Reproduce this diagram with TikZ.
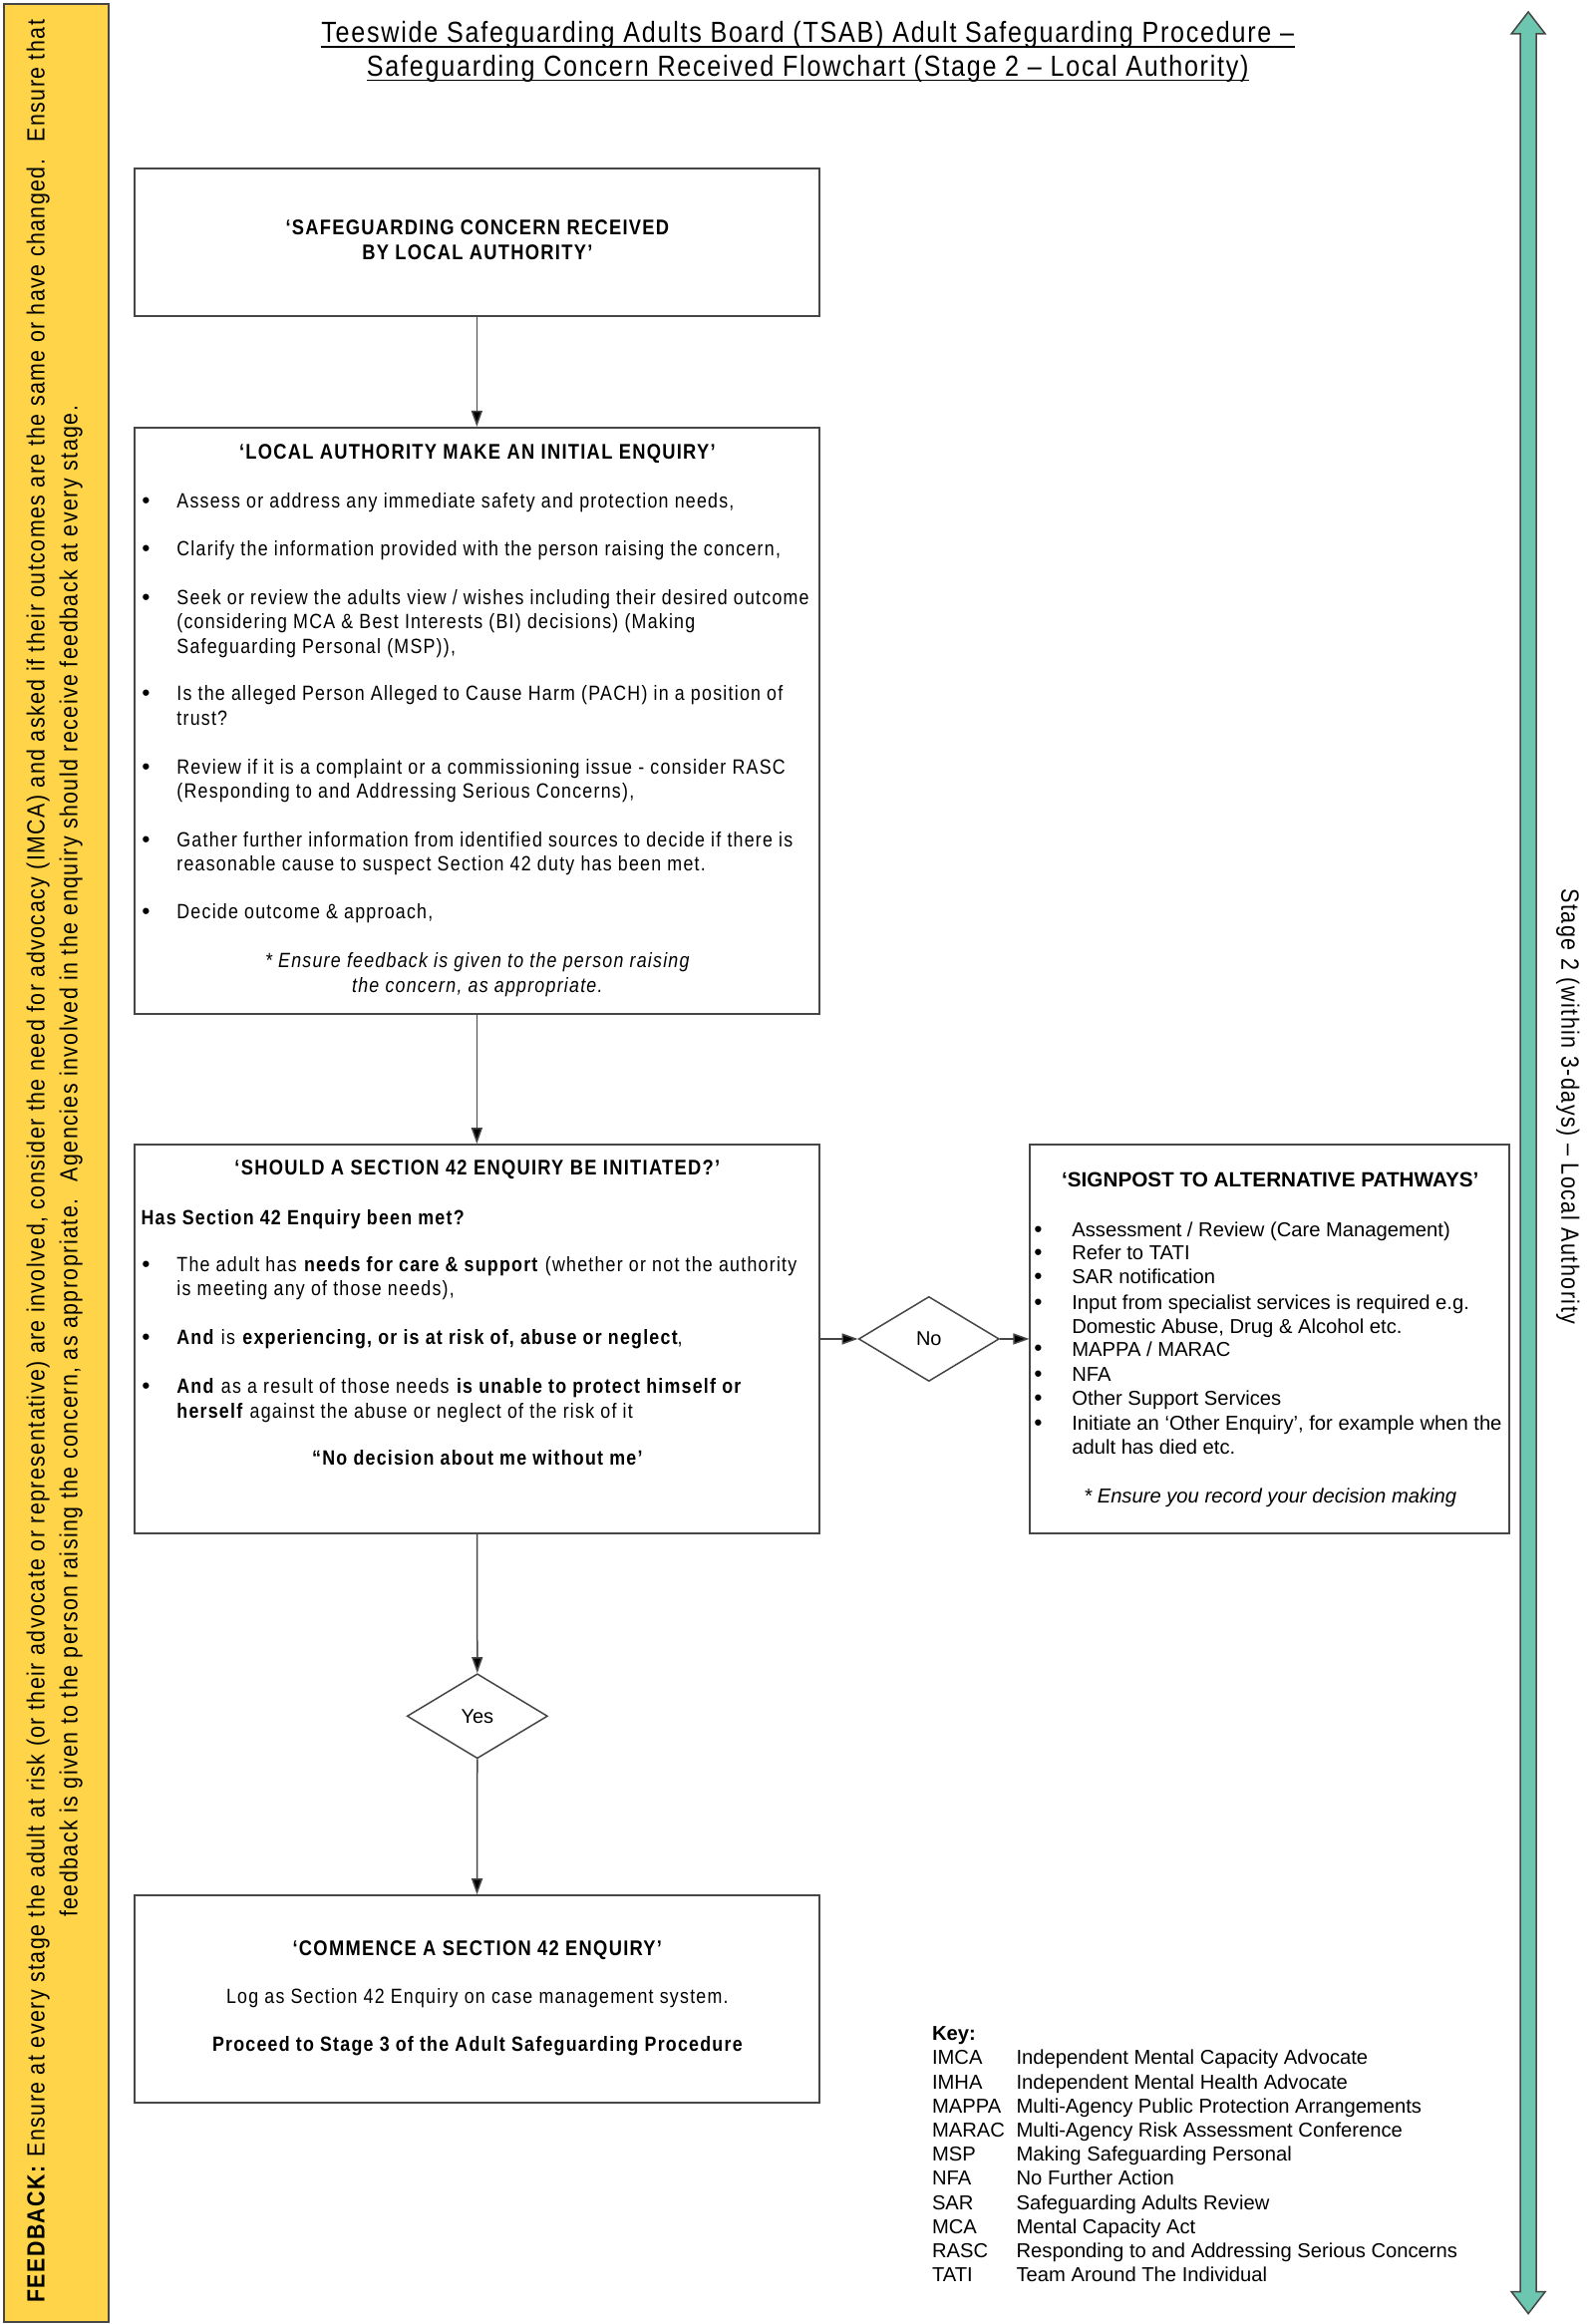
\documentclass[tikz,border=0pt]{standalone}
\usepackage{fontspec}
\setmainfont{Liberation Sans}
\newfontfamily\nar[FakeStretch=0.86,LetterSpace=6]{Liberation Sans}
\usetikzlibrary{arrows.meta,shapes.geometric}
\definecolor{fbyellow}{RGB}{255,212,72}
\definecolor{stgreen}{RGB}{108,198,176}
\definecolor{lineg}{RGB}{70,70,70}
\newcommand\boxfont{\nar\fontsize{20.7}{24.4}\selectfont}
\newcommand\headfont{\nar\fontsize{21.3}{24.4}\selectfont\bfseries}
\newcommand\titfont{\nar\fontsize{29.2}{34}\selectfont}
\newcommand\fbfont{\nar\fontsize{24.8}{33}\selectfont}
\newcommand\stfont{\nar\fontsize{25}{28}\selectfont}
\newcommand\keyfont{\fontsize{20.2}{24.4}\selectfont}
\begin{document}
\begin{tikzpicture}[x=0.9955pt,y=-0.9955pt,
  box/.style={draw=lineg, line width=1.6pt, inner sep=0pt, fill=white},
  lbl/.style={inner sep=0pt, anchor=base west, align=left},
  ctr/.style={inner sep=0pt, anchor=base, align=center},
  dot/.style={inner sep=0pt, anchor=base west, font=\fontsize{22}{24}\selectfont\bfseries},
  conn/.style={draw=lineg, line width=1.5pt, -{Triangle[length=16pt,width=11pt,fill=black]}},
  dec/.style={diamond, draw=lineg, line width=1.5pt, aspect=1.66, minimum width=141pt, minimum height=85pt, inner sep=0pt, font=\fontsize{20}{24}\selectfont, fill=white},
]
\useasboundingbox (0,0) rectangle (1602.2,2341.5);
\fill[white] (0,0) rectangle (1602.2,2341.5);

% feedback bar
\draw[draw=lineg, line width=2pt, fill=fbyellow] (4,4) rectangle (109,2339);
\node[rotate=90, align=center, font=\fbfont, inner sep=0pt] (fb) at (55,1170) {\makebox[2290pt][s]{\textbf{FEEDBACK:} Ensure at every stage the adult at risk (or their advocate or representative) are involved, consider the need for advocacy (IMCA) and asked if their outcomes are the same or have changed.~ Ensure that}\\feedback is given to the person raising the concern, as appropriate.~ Agencies involved in the enquiry should receive feedback at every stage.};

% stage arrow
\draw[fill=stgreen, draw=lineg, line width=1.5pt] (1540,12) -- (1557,34) -- (1548,34) -- (1548,2309) -- (1557,2309) -- (1540,2331) -- (1523,2309) -- (1532,2309) -- (1532,34) -- (1523,34) -- cycle;
\node[rotate=-90, font=\stfont, inner sep=0pt] (st) at (1580,1115) {Stage 2 (within 3-days) – Local Authority};

% title
\node[ctr, font=\titfont] (t1) at (814,43) {Teeswide Safeguarding Adults Board (TSAB) Adult Safeguarding Procedure –};
\node[ctr, font=\titfont] (t2) at (814,77) {Safeguarding Concern Received Flowchart (Stage 2 – Local Authority)};
\draw[line width=1.4pt] ([yshift=-4pt]t1.base west) -- ([yshift=-4pt]t1.base east);
\draw[line width=1.4pt] ([yshift=-4pt]t2.base west) -- ([yshift=-4pt]t2.base east);

% boxes
\node[box, minimum width=687pt, minimum height=148pt] (b1) at (480.5,244) {};
\node[box, minimum width=687pt, minimum height=588pt] (b2) at (480.5,726) {};
\node[box, minimum width=687pt, minimum height=390pt] (b3) at (480.5,1349) {};
\node[box, minimum width=687pt, minimum height=208pt] (b4) at (480.5,2014) {};
\node[box, minimum width=481pt, minimum height=390pt] (sp) at (1279.5,1349) {};
\node[dec] (no) at (936,1349) {No};
\node[dec] (yes) at (481,1729) {Yes};

% connectors
\draw[conn] (b1) -- (b2);
\draw[conn] (b2) -- (b3);
\draw[conn] (b3) -- (yes);
\draw[conn] (yes) -- (b4);
\draw[conn] (b3.east) -- (no.west);
\draw[conn] (no.east) -- (sp.west);

% box 1 text
\node[ctr, font=\headfont] (b1t) at (481,237+24.5) {‘SAFEGUARDING CONCERN RECEIVED\\BY LOCAL AUTHORITY’};

% box 2 text
\node[ctr, font=\headfont] (b2h) at (481,463) {‘LOCAL AUTHORITY MAKE AN INITIAL ENQUIRY’};
\foreach \yy [count=\i] in {512,560,609,706,780,853,926}
  \node[dot] (b2d\i) at (143,\yy) {•};
\node[lbl, font=\boxfont] (b2a) at (178,512) {Assess or address any immediate safety and protection needs,};
\node[lbl, font=\boxfont] (b2b) at (178,560) {Clarify the information provided with the person raising the concern,};
\node[lbl, font=\boxfont] (b2c) at (178,609+49) {Seek or review the adults view / wishes including their desired outcome\\(considering MCA \& Best Interests (BI) decisions) (Making\\Safeguarding Personal (MSP)),};
\node[lbl, font=\boxfont] (b2e) at (178,706+24.5) {Is the alleged Person Alleged to Cause Harm (PACH) in a position of\\trust?};
\node[lbl, font=\boxfont] (b2f) at (178,780+24.5) {Review if it is a complaint or a commissioning issue - consider RASC\\(Responding to and Addressing Serious Concerns),};
\node[lbl, font=\boxfont] (b2g) at (178,853+24.5) {Gather further information from identified sources to decide if there is\\reasonable cause to suspect Section 42 duty has been met.};
\node[lbl, font=\boxfont] (b2i) at (178,926) {Decide outcome \& approach,};
\node[ctr, font=\boxfont\itshape] (b2n) at (481,975+24.5) {* Ensure feedback is given to the person raising\\the concern, as appropriate.};

% box 3 text
\node[ctr, font=\headfont] (b3h) at (481,1184) {‘SHOULD A SECTION 42 ENQUIRY BE INITIATED?’};
\node[lbl, font=\boxfont\bfseries] (b3q) at (142,1234) {Has Section 42 Enquiry been met?};
\foreach \yy [count=\i] in {1281,1355,1404}
  \node[dot] (b3d\i) at (143,\yy) {•};
\node[lbl, font=\boxfont] (b3a) at (178,1281+24.5) {The adult has \textbf{needs for care \& support} (whether or not the authority\\is meeting any of those needs),};
\node[lbl, font=\boxfont] (b3b) at (178,1355) {\textbf{And} is \textbf{experiencing, or is at risk of, abuse or neglect},};
\node[lbl, font=\boxfont] (b3c) at (178,1404+24.5) {\textbf{And} as a result of those needs \textbf{is unable to protect himself or}\\\textbf{herself} against the abuse or neglect of the risk of it};
\node[ctr, font=\boxfont\bfseries] (b3n) at (481,1476) {“No decision about me without me’};

% box 4 text
\node[ctr, font=\headfont] (b4h) at (481,1970) {‘COMMENCE A SECTION 42 ENQUIRY’};
\node[ctr, font=\boxfont] (b4a) at (481,2019) {Log as Section 42 Enquiry on case management system.};
\node[ctr, font=\boxfont\bfseries] (b4b) at (481,2067) {Proceed to Stage 3 of the Adult Safeguarding Procedure};

% signpost text
\node[ctr, font=\fontsize{20.7}{24.4}\selectfont\bfseries] (sph) at (1280,1196) {‘SIGNPOST TO ALTERNATIVE PATHWAYS’};
\foreach \yy [count=\i] in {1246,1269,1293,1319,1366,1392,1416,1441}
  \node[dot] (spd\i) at (1042,\yy) {•};
\node[lbl, font=\keyfont] (sp1) at (1080,1246) {Assessment / Review (Care Management)};
\node[lbl, font=\keyfont] (sp2) at (1080,1269) {Refer to TATI};
\node[lbl, font=\keyfont] (sp3) at (1080,1293) {SAR notification};
\node[lbl, font=\keyfont] (sp4) at (1080,1319+24.5) {Input from specialist services is required e.g.\\Domestic Abuse, Drug \& Alcohol etc.};
\node[lbl, font=\keyfont] (sp5) at (1080,1367) {MAPPA / MARAC};
\node[lbl, font=\keyfont] (sp6) at (1080,1392) {NFA};
\node[lbl, font=\keyfont] (sp7) at (1080,1416) {Other Support Services};
\node[lbl, font=\keyfont] (sp8) at (1080,1441+24.5) {Initiate an ‘Other Enquiry’, for example when the\\adult has died etc.};
\node[ctr, font=\keyfont\itshape] (spn) at (1280,1514) {* Ensure you record your decision making};

% key
\node[lbl, font=\keyfont\bfseries] (key) at (939,2056) {Key:};
\foreach \ab/\de [count=\i] in {IMCA/Independent Mental Capacity Advocate, IMHA/Independent Mental Health Advocate, MAPPA/Multi-Agency Public Protection Arrangements, MARAC/Multi-Agency Risk Assessment Conference, MSP/Making Safeguarding Personal, NFA/No Further Action, SAR/Safeguarding Adults Review, MCA/Mental Capacity Act, RASC/Responding to and Addressing Serious Concerns, TATI/Team Around The Individual}
{
  \node[lbl, font=\keyfont] (ka\i) at (939,2056+24.3*\i) {\ab};
  \node[lbl, font=\keyfont] (kd\i) at (1024,2056+24.3*\i) {\de};
}
\end{tikzpicture}
\end{document}
